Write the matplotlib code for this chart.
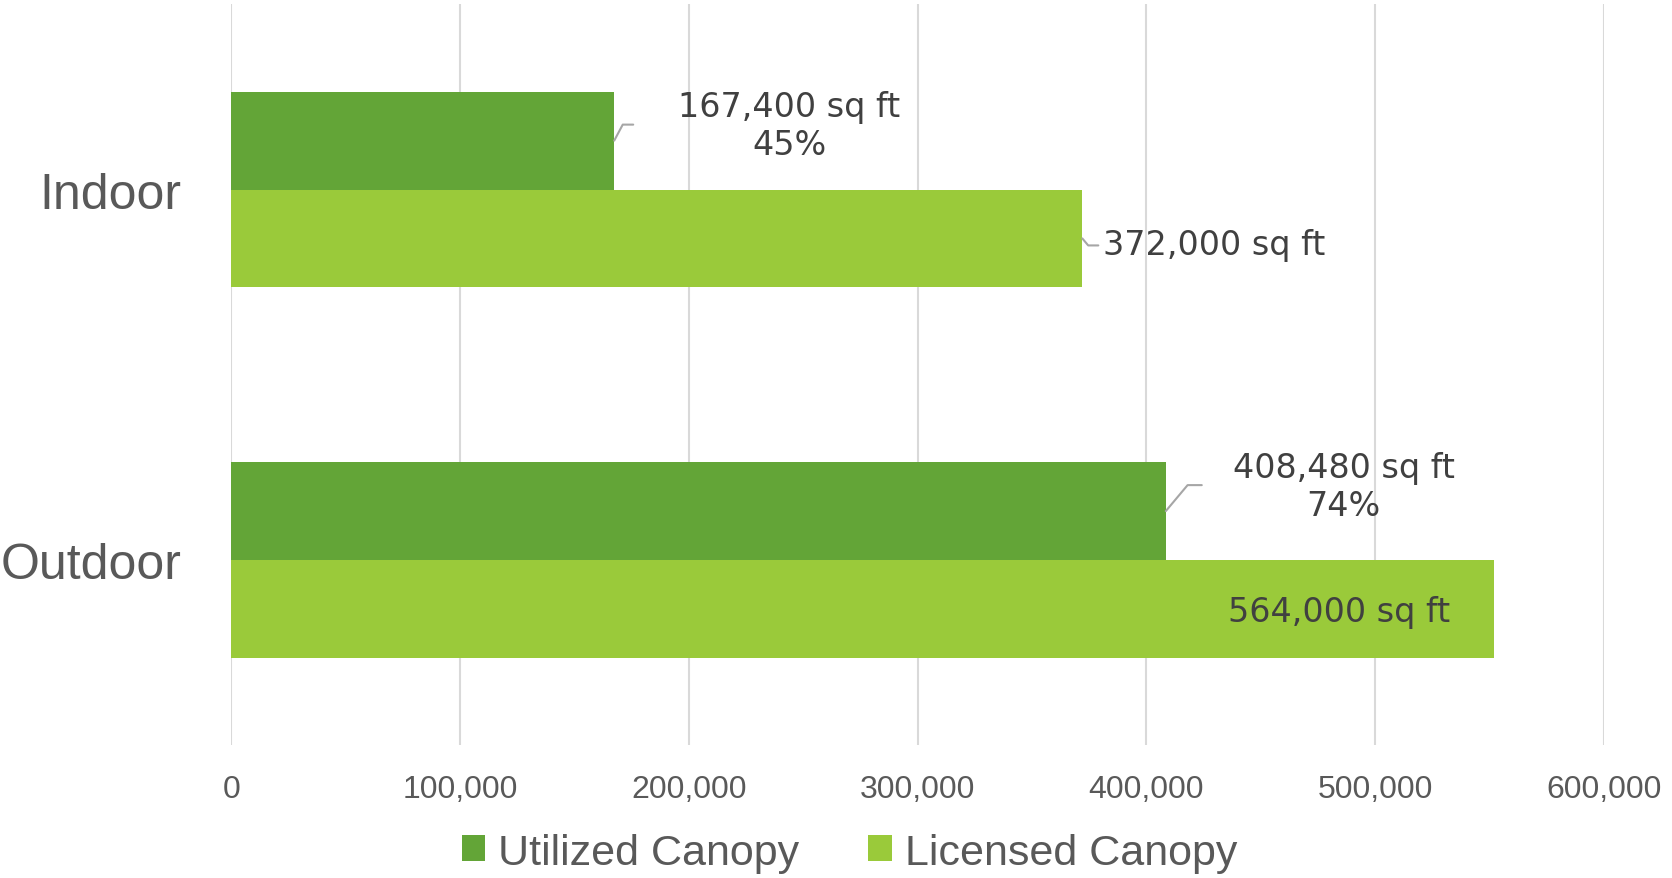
import numpy as np
import matplotlib.pyplot as plt
from matplotlib.ticker import FuncFormatter

categories = ["Indoor", "Outdoor"]
utilized = [167400, 408480]
licensed = [372000, 552000]
utilized_labels = ["167,400 sq ft\n45%", "408,480 sq ft\n74%"]
licensed_labels = ["372,000 sq ft", "564,000 sq ft"]
xticks = [0, 100000, 200000, 300000, 400000, 500000, 600000]

DARK = "#63A537"
LIGHT = "#9ACA3A"
GRID = "#D9D9D9"
AXIS_TEXT = "#595959"
LABEL_TEXT = "#404040"
LEADER = "#A6A6A6"
AXIS_FONT = ["Liberation Sans", "DejaVu Sans"]
LABEL_FONT = ["DejaVu Sans"]

fig = plt.figure(figsize=(16.72, 8.79), dpi=100)
ax = fig.add_axes([0.1383, 0.151, 0.821, 0.843])

y = np.arange(len(categories))
h = 0.264
ax.barh(y - h / 2, utilized, height=h, color=DARK, label="Utilized Canopy")
ax.barh(y + h / 2, licensed, height=h, color=LIGHT, label="Licensed Canopy")

ax.set_xlim(0, 600000)
ax.set_ylim(1.5, -0.5)
ax.set_xticks(xticks)
ax.xaxis.set_major_formatter(FuncFormatter(lambda v, p: f"{int(v):,}"))
ax.set_yticks(y)
ax.set_yticklabels(categories)
ax.grid(axis="x", color=GRID, linewidth=1.5)
ax.set_axisbelow(True)
for s in ax.spines.values():
    s.set_visible(False)
ax.tick_params(axis="both", length=0)
ax.tick_params(axis="x", pad=21, labelsize=23, labelcolor=AXIS_TEXT)
ax.tick_params(axis="y", pad=36, labelsize=36, labelcolor=AXIS_TEXT)
for t in ax.get_xticklabels() + ax.get_yticklabels():
    t.set_family(AXIS_FONT)

# leader lines + labels (offsets in pixels from bar end)
util_leader = [(19, 16, 62), (36, 26, 50)]
util_text = [(175, 15), (178, 25)]
for i in range(len(categories)):
    yy = y[i] - h / 2
    lx, ly, ang = util_leader[i]
    ax.annotate("", xy=(utilized[i], yy), xytext=(lx, ly), textcoords="offset pixels",
                arrowprops=dict(arrowstyle="-", color=LEADER, lw=1.5, shrinkA=0, shrinkB=0,
                                connectionstyle=f"angle,angleA=0,angleB={ang},rad=0"))
    tx, ty = util_text[i]
    ax.annotate(utilized_labels[i], xy=(utilized[i], yy), xytext=(tx, ty),
                textcoords="offset pixels", ha="center", va="center", fontsize=24,
                color=LABEL_TEXT, family=LABEL_FONT, linespacing=1.2)

# Indoor licensed: outside with small leader
yy = y[0] + h / 2
ax.annotate("", xy=(licensed[0], yy), xytext=(16, -7), textcoords="offset pixels",
            arrowprops=dict(arrowstyle="-", color=LEADER, lw=1.5, shrinkA=0, shrinkB=0,
                            connectionstyle="angle,angleA=0,angleB=-50,rad=0"))
ax.annotate(licensed_labels[0], xy=(licensed[0], yy), xytext=(21, -6),
            textcoords="offset pixels", ha="left", va="center", fontsize=24,
            color=LABEL_TEXT, family=LABEL_FONT)
# Outdoor licensed: inside end
yy = y[1] + h / 2
ax.annotate(licensed_labels[1], xy=(licensed[1], yy), xytext=(-155, -3),
            textcoords="offset pixels", ha="center", va="center", fontsize=24,
            color=LABEL_TEXT, family=LABEL_FONT)

leg = fig.legend(loc="center", bbox_to_anchor=(0.508, 0.029), ncol=2, frameon=False,
                 prop={"family": AXIS_FONT, "size": 31}, handlelength=0.55, handleheight=0.55,
                 handletextpad=0.3, columnspacing=1.6, labelcolor=AXIS_TEXT,
                 borderaxespad=0, borderpad=0.1)

fig.savefig("out.png", dpi=100)
